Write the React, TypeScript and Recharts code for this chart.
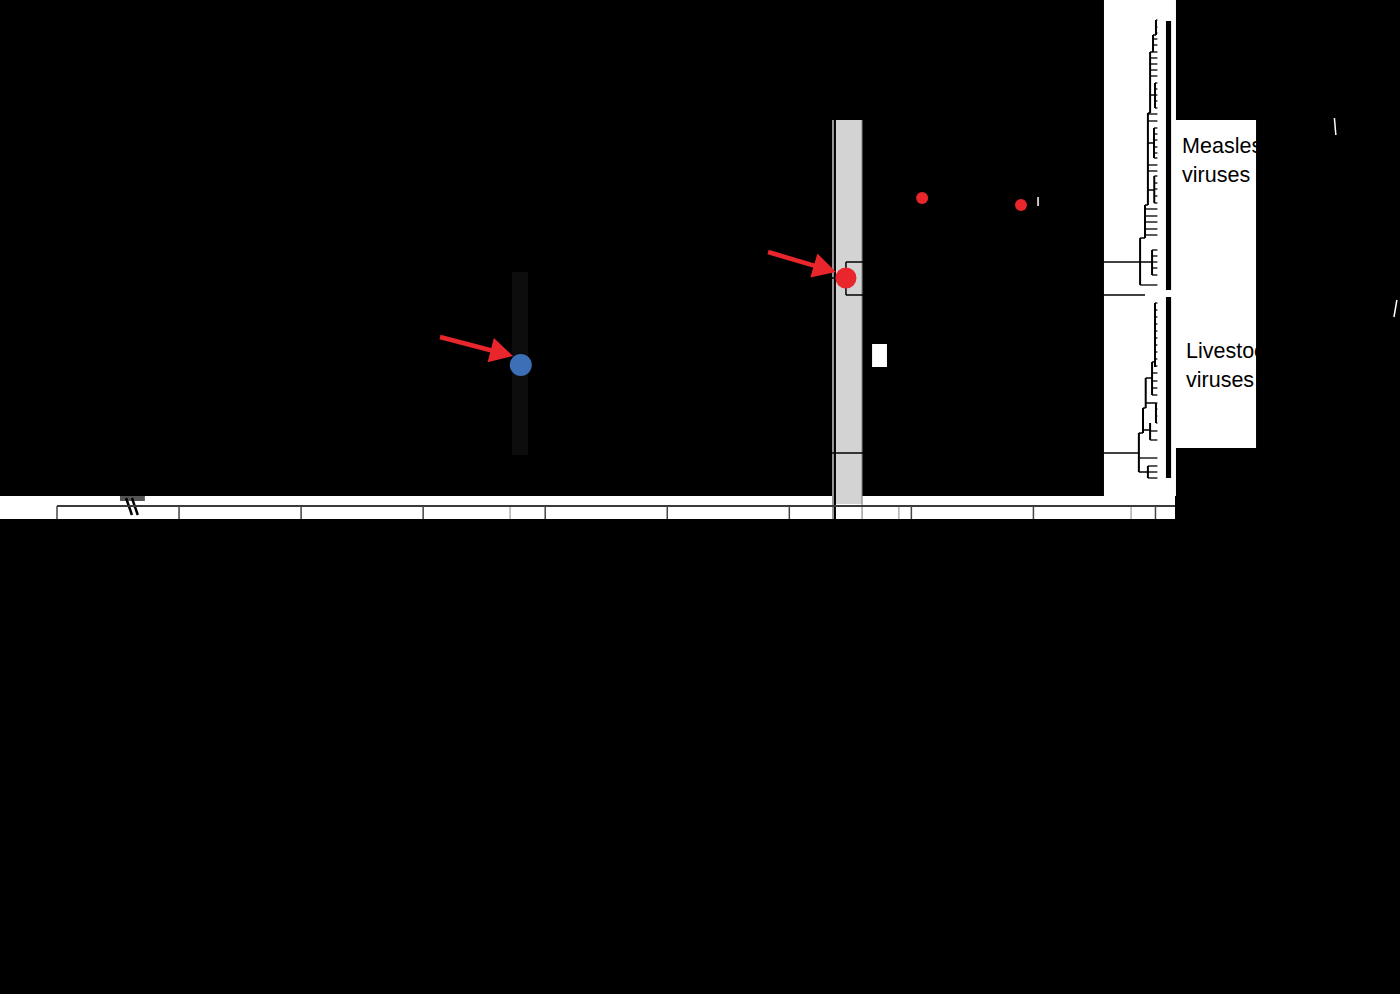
import React from "react";
import {
  ScatterChart,
  Scatter,
  XAxis,
  YAxis,
  ReferenceArea,
  ReferenceLine,
  ReferenceDot,
} from "recharts";

// time axis in years CE; vertical axis = row position in the tree (0 at top)
const yearTicks = [-2500, -2000, -1500, -1000, -500, 0, 500, 1000, 1500, 2000];
const guideYears = [-644, 949, 1900];

const points = [
  { year: -600, pos: 365, kind: "root" },
  { year: 732, pos: 278, kind: "node" },
  { year: 1044, pos: 198, kind: "sample" },
  { year: 1449, pos: 205, kind: "sample" },
];

const arrows = [
  { fromYear: -931, fromPos: 337, toYear: -632, toPos: 356 },
  { fromYear: 413, fromPos: 252, toYear: 691, toPos: 272 },
];

const rootHpd = { from: -636, to: -570, top: 272, bottom: 455 };
const nodeHpd = { from: 679, to: 798, top: 120, bottom: 504 };

// stems from the root to each clade: [from year, to year, row]
const stems = [
  [-570, 732, 278],
  [732, 1937, 262],
  [732, 1957, 295],
  [-570, 1932, 453],
];
const stemNodes = [[732, 262, 295]];

// tree node bars: [year, top row, bottom row]
const measlesNodes = [
  [1937, 238, 285],
  [1957, 205, 238],
  [1969, 113, 205],
  [1978, 52, 113],
  [1990, 35, 52],
  [2002, 20, 35],
  [1998, 83, 108],
  [1994, 128, 158],
  [1995, 176, 203],
  [1986, 250, 275],
];
const measlesLinks = [
  [1937, 1957, 238],
  [1957, 1969, 205],
  [1969, 1978, 113],
  [1978, 1990, 52],
  [1990, 2002, 35],
  [1978, 1998, 95],
  [1969, 1994, 143],
  [1969, 1995, 190],
  [1937, 1986, 262],
];
const measlesTips = [
  20, 27, 33, 39, 45, 52, 58, 64, 70, 76, 83, 89, 95, 101, 108, 114, 121, 128,
  134, 140, 147, 153, 158, 165, 171, 176, 183, 189, 196, 203, 209, 216, 222,
  229, 235, 250, 256, 262, 268, 275, 285,
];

const livestockNodes = [
  [1932, 433, 472],
  [1949, 408, 433],
  [1960, 378, 408],
  [1986, 362, 395],
  [1998, 303, 367],
  [2002, 403, 423],
  [1978, 423, 440],
  [1969, 466, 478],
];
const livestockLinks = [
  [1932, 1949, 433],
  [1949, 1960, 408],
  [1960, 1986, 378],
  [1986, 1998, 362],
  [1960, 2002, 403],
  [1949, 1978, 430],
  [1932, 1969, 472],
];
const livestockTips = [
  303, 310, 317, 324, 331, 338, 345, 352, 359, 366, 373, 381, 388, 395, 403,
  409, 416, 423, 431, 440, 458, 466, 472, 478,
];
const tipYear = 2008;

// clade bars and labels
const cladeBars = [
  [21, 290],
  [297, 478],
];
const cladeLabels = [
  { year: 2109, pos: 153, lines: ["Measles", "viruses"] },
  { year: 2125, pos: 358, lines: ["Livestock", "viruses"] },
];

const RED = "#e8262b";
const dotStyle: Record<string, { r: number; fill: string }> = {
  root: { r: 11, fill: "#3b6fb6" },
  node: { r: 10.5, fill: RED },
  sample: { r: 6, fill: RED },
};

function tipsFor(tips: number[], nodes: number[][]) {
  return tips.map((y) => {
    let x = nodes[0][0];
    nodes.forEach((n) => {
      if (y >= n[1] && y <= n[2] && n[0] > x) x = n[0];
    });
    return [x, tipYear, y];
  });
}

const Arrow = (p: any) => {
  const { x1, y1, x2, y2 } = p;
  const dx = x2 - x1;
  const dy = y2 - y1;
  const len = Math.sqrt(dx * dx + dy * dy);
  const ux = dx / len;
  const uy = dy / len;
  const head = 23;
  const half = 12.5;
  const bx = x2 - ux * head;
  const by = y2 - uy * head;
  return (
    <g>
      <line x1={x1} y1={y1} x2={bx + ux * 2} y2={by + uy * 2} stroke={RED} strokeWidth={4.5} />
      <polygon
        points={`${x2},${y2} ${bx - uy * half},${by + ux * half} ${bx + uy * half},${by - ux * half}`}
        fill={RED}
      />
    </g>
  );
};

const hSeg = (s: number[], key: string, stroke = "#000", w = 1.5) => (
  <ReferenceLine
    key={key}
    segment={[
      { x: s[0], y: s[2] },
      { x: s[1], y: s[2] },
    ]}
    stroke={stroke}
    strokeWidth={w}
    ifOverflow="visible"
  />
);
const vSeg = (s: number[], key: string, stroke = "#000", w = 1.5) => (
  <ReferenceLine
    key={key}
    segment={[
      { x: s[0], y: s[1] },
      { x: s[0], y: s[2] },
    ]}
    stroke={stroke}
    strokeWidth={w}
    ifOverflow="visible"
  />
);

export default function App() {
  const allTips = [
    ...tipsFor(measlesTips, measlesNodes),
    ...tipsFor(livestockTips, livestockNodes),
  ];
  return (
    <div style={{ position: "absolute", left: 0, top: 0, width: 1400, height: 994, background: "#000" }}>
      <ScatterChart
        width={1400}
        height={994}
        margin={{ top: 0, right: 225, left: 57, bottom: 458 }}
        style={{ fontFamily: "'Liberation Sans', Arial, sans-serif" }}
      >
        {/* white strip under the axis, tree panel and label panel */}
        <ReferenceArea x1={-2734} x2={2080} y1={496} y2={519} fill="#fff" fillOpacity={1} ifOverflow="visible" />
        <ReferenceArea x1={1789} x2={2084} y1={0} y2={496} fill="#fff" fillOpacity={1} ifOverflow="visible" />
        <ReferenceArea x1={2076} x2={2412} y1={120} y2={448} fill="#fff" fillOpacity={1} ifOverflow="visible" />

        <XAxis
          type="number"
          dataKey="year"
          domain={[-2500, 2080]}
          ticks={yearTicks}
          allowDataOverflow
          height={30}
          tickSize={13}
          stroke="#3a3a3a"
          axisLine={{ stroke: "#3a3a3a", strokeWidth: 2 }}
          tickLine={{ stroke: "#444", strokeWidth: 1.5 }}
          tick={{ fill: "#000", fontSize: 16 }}
        />
        <YAxis type="number" dataKey="pos" domain={[0, 506]} reversed hide allowDataOverflow />

        {/* axis break */}
        <ReferenceArea x1={-2242} x2={-2140} y1={496} y2={501} fill="#555" fillOpacity={1} ifOverflow="visible" />
        {[-2217, -2193].map((x, i) => (
          <ReferenceLine
            key={`brk${i}`}
            segment={[
              { x, y: 498 },
              { x: x + 24, y: 515 },
            ]}
            stroke="#000"
            strokeWidth={2.5}
            ifOverflow="visible"
          />
        ))}

        {/* uncertainty bands */}
        <ReferenceArea x1={rootHpd.from} x2={rootHpd.to} y1={rootHpd.top} y2={rootHpd.bottom} fill="#0d0d0d" fillOpacity={1} />
        <ReferenceArea x1={nodeHpd.from} x2={nodeHpd.to} y1={nodeHpd.top} y2={nodeHpd.bottom} fill="#d3d3d3" fillOpacity={1} />
        {vSeg([nodeHpd.from, nodeHpd.top, 519], "hl", "#9a9a9a", 2)}
        {vSeg([687, nodeHpd.top, 519], "hl2", "#000", 2)}
        {vSeg([nodeHpd.to, nodeHpd.top, 519], "hr", "#777", 1)}
        {guideYears.map((x, i) => vSeg([x, 507, 519], `g${i}`, "#888", 1))}

        <ReferenceArea x1={839} x2={900} y1={344} y2={367} fill="#fff" fillOpacity={1} />

        {/* tree */}
        {stems.map((s, i) => hSeg(s, `st${i}`))}
        {stemNodes.map((s, i) => vSeg(s, `sn${i}`))}
        {measlesNodes.map((s, i) => vSeg(s, `mn${i}`, "#000", 2))}
        {measlesLinks.map((s, i) => hSeg(s, `ml${i}`))}
        {livestockNodes.map((s, i) => vSeg(s, `ln${i}`, "#000", 2))}
        {livestockLinks.map((s, i) => hSeg(s, `ll${i}`))}
        {allTips.map((s, i) => hSeg(s, `t${i}`, "#000", 1.3))}
        {cladeBars.map((b, i) => (
          <ReferenceArea key={`cb${i}`} x1={2043} x2={2064} y1={b[0]} y2={b[1]} fill="#000" fillOpacity={1} />
        ))}

        {/* stray white marks */}
        {vSeg([1519, 197, 206], "w1", "#fff", 1.5)}
        <ReferenceLine segment={[{ x: 2733, y: 118 }, { x: 2739, y: 135 }]} stroke="#fff" strokeWidth={1.5} ifOverflow="visible" />
        <ReferenceLine segment={[{ x: 2989, y: 300 }, { x: 2977, y: 317 }]} stroke="#fff" strokeWidth={1.5} ifOverflow="visible" />

        {arrows.map((a, i) => (
          <ReferenceLine
            key={`ar${i}`}
            segment={[
              { x: a.fromYear, y: a.fromPos },
              { x: a.toYear, y: a.toPos },
            ]}
            ifOverflow="visible"
            shape={(p: any) => <Arrow {...p} />}
          />
        ))}

        <Scatter
          data={points}
          isAnimationActive={false}
          shape={(p: any) => {
            const st = dotStyle[p.payload.kind];
            return <circle cx={p.cx} cy={p.cy} r={st.r} fill={st.fill} />;
          }}
        />

        {cladeLabels.map((l, i) => (
          <ReferenceDot
            key={`lab${i}`}
            x={l.year}
            y={l.pos}
            ifOverflow="visible"
            shape={(p: any) => (
              <text x={p.cx} y={p.cy} fontSize={21.5} fill="#000" fontFamily="'Liberation Sans', Arial, sans-serif">
                {l.lines.map((t, j) => (
                  <tspan key={j} x={p.cx} dy={j === 0 ? 0 : 29}>
                    {t}
                  </tspan>
                ))}
              </text>
            )}
          />
        ))}
      </ScatterChart>
    </div>
  );
}
